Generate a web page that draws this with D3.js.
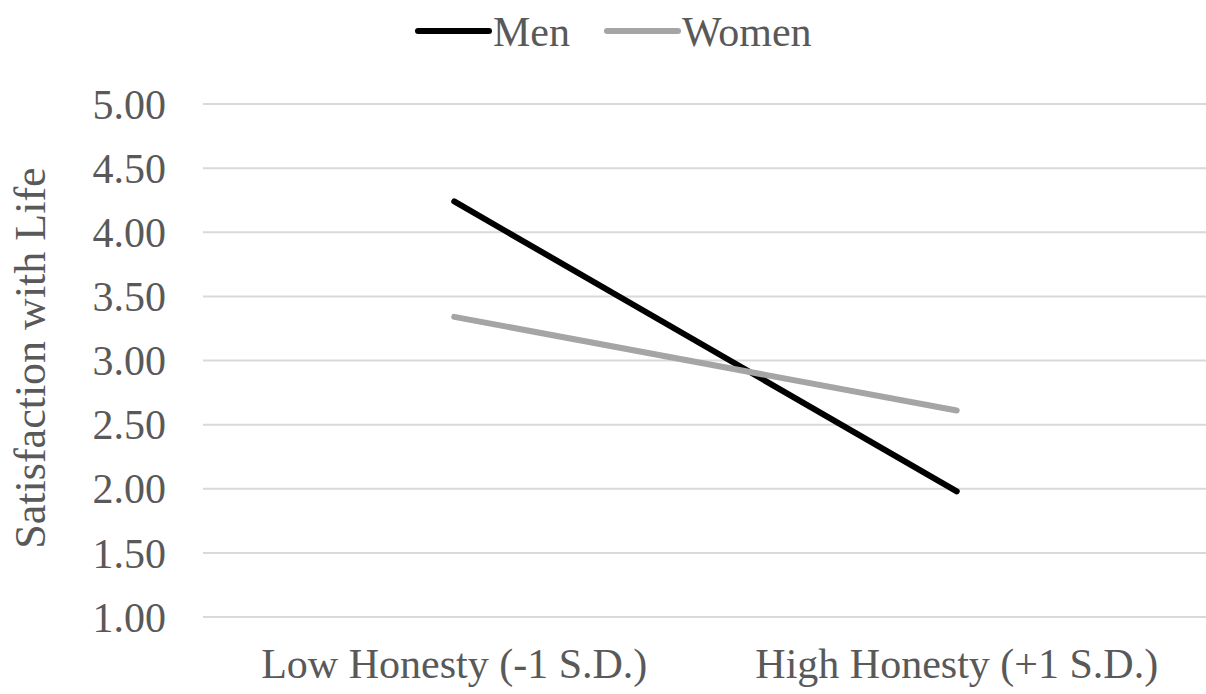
<!DOCTYPE html>
<html>
<head>
<meta charset="utf-8">
<script src="https://cdn.jsdelivr.net/npm/d3@7"></script>
<style>
  body { margin: 0; background: #fff; }
</style>
</head>
<body>
<div id="container"></div>
<script>
const categories = ["Low Honesty (-1 S.D.)", "High Honesty (+1 S.D.)"];
const seriesNames = ["Men", "Women"];
const menValues = [4.24, 1.98];
const womenValues = [3.34, 2.61];
const yTicks = [1.00, 1.50, 2.00, 2.50, 3.00, 3.50, 4.00, 4.50, 5.00];

const width = 1206, height = 694;
const margin = {top: 104, right: 0, bottom: 77, left: 203};
const fontFamily = "'Liberation Serif'";
const fontSize = 42;
const textColor = "#595959";

const svg = d3.select("#container")
  .append("svg")
  .attr("width", width)
  .attr("height", height);

const x = d3.scaleBand()
  .domain(categories)
  .range([margin.left, 1208]);

const y = d3.scaleLinear()
  .domain([1, 5])
  .range([height - margin.bottom, margin.top]);

function styleText(sel) {
  return sel
    .attr("font-family", fontFamily)
    .attr("font-size", fontSize)
    .attr("fill", textColor);
}

// gridlines
svg.append("g")
  .selectAll("line")
  .data(yTicks)
  .enter()
  .append("line")
  .attr("x1", margin.left)
  .attr("x2", width)
  .attr("y1", d => y(d))
  .attr("y2", d => y(d))
  .attr("stroke", "#d9d9d9")
  .attr("stroke-width", 2);

// y tick labels
svg.append("g")
  .selectAll("text")
  .data(yTicks)
  .enter()
  .append("text")
  .attr("x", 166)
  .attr("y", d => y(d))
  .attr("dy", "0.35em")
  .attr("text-anchor", "end")
  .call(styleText)
  .text(d => d.toFixed(2));

// x labels
svg.append("g")
  .selectAll("text")
  .data(categories)
  .enter()
  .append("text")
  .attr("x", d => x(d) + x.bandwidth() / 2)
  .attr("y", 678)
  .attr("text-anchor", "middle")
  .call(styleText)
  .text(d => d);

// y title
svg.append("text")
  .attr("transform", "translate(45,358) rotate(-90)")
  .attr("text-anchor", "middle")
  .call(styleText)
  .attr("font-size", 44)
  .text("Satisfaction with Life");

const series = [
  {name: seriesNames[0], values: menValues, color: "#000000"},
  {name: seriesNames[1], values: womenValues, color: "#a5a5a5"}
];

const line = d3.line()
  .x((d, i) => x(categories[i]) + x.bandwidth() / 2)
  .y(d => y(d));

svg.append("g")
  .selectAll("path")
  .data(series)
  .enter()
  .append("path")
  .attr("d", d => line(d.values))
  .attr("fill", "none")
  .attr("stroke", d => d.color)
  .attr("stroke-width", 6)
  .attr("stroke-linecap", "round");

// legend
const legendX = [418, 607];
const legend = svg.append("g")
  .selectAll("g")
  .data(series)
  .enter()
  .append("g")
  .attr("transform", (d, i) => `translate(${legendX[i]},31)`);

legend.append("line")
  .attr("x1", 0)
  .attr("x2", 71)
  .attr("stroke", d => d.color)
  .attr("stroke-width", 6)
  .attr("stroke-linecap", "round");

legend.append("text")
  .attr("x", 75)
  .attr("dy", "0.35em")
  .call(styleText)
  .text(d => d.name);
</script>
</body>
</html>
